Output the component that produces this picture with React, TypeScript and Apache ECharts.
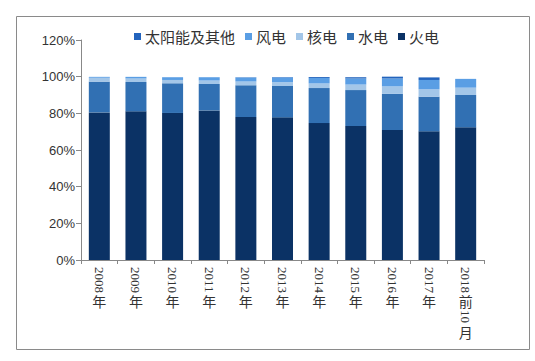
import React, { useEffect, useRef } from "react";
import * as echarts from "echarts";

const categories = ["2008年", "2009年", "2010年", "2011年", "2012年", "2013年", "2014年", "2015年", "2016年", "2017年", "2018前10月"];
const thermal = [80.5, 81.1, 80.2, 81.6, 78.0, 77.8, 74.7, 73.1, 70.9, 70.2, 72.4];
const hydro = [16.8, 16.0, 16.2, 14.4, 17.3, 17.1, 19.1, 19.6, 19.7, 18.9, 17.6];
const nuclear = [2.1, 1.9, 1.8, 1.9, 2.1, 2.1, 2.5, 3.0, 4.1, 4.0, 4.0];
const wind = [0.5, 0.9, 1.5, 1.8, 2.2, 2.6, 3.0, 3.3, 4.3, 5.1, 4.8];
const solar = [0, 0, 0, 0, 0.1, 0.2, 0.5, 0.7, 1.0, 1.4, 0];
const yTicks = [0, 20, 40, 60, 80, 100, 120];

const seriesDefs = [
  { name: "火电", data: thermal, color: "#0b3265" },
  { name: "水电", data: hydro, color: "#3170b3" },
  { name: "核电", data: nuclear, color: "#a3c6e8" },
  { name: "风电", data: wind, color: "#5a9ee4" },
  { name: "太阳能及其他", data: solar, color: "#2364bd" },
];
const legendOrder = ["太阳能及其他", "风电", "核电", "水电", "火电"];

// vertical label layout: digits run sideways, CJK characters stay upright
const segmentsOf = (s: string) => s.match(/(\d+|\D+)/g) || [s];
const labelSegments = [
  { margin: 7, rotate: -90, size: 13 },
  { margin: 34, rotate: 0, size: 14 },
  { margin: 50, rotate: -90, size: 13 },
  { margin: 65, rotate: 0, size: 14 },
];

export default function App() {
  const ref = useRef<HTMLDivElement>(null);
  useEffect(() => {
    if (!ref.current) return;
    const chart = echarts.init(ref.current, null, { renderer: "svg" });
    const xAxes = labelSegments.map((seg, k) => ({
      type: "category",
      data: categories,
      position: "bottom",
      gridIndex: 0,
      axisLine: { show: k === 0, lineStyle: { color: "#888888", width: 1 } },
      axisTick: { show: k === 0, length: 4, lineStyle: { color: "#888888" } },
      axisLabel: {
        rotate: seg.rotate,
        interval: 0,
        margin: seg.margin,
        formatter: (v: string) => segmentsOf(v)[k] || "",
        fontFamily: k % 2 === 0 ? "Liberation Serif" : "Noto Sans CJK SC",
        fontSize: seg.size,
        color: "#333333",
      },
    }));
    chart.setOption({
      animation: false,
      backgroundColor: "#ffffff",
      graphic: [
        {
          type: "rect",
          shape: { x: 16.5, y: 16.5, width: 513, height: 333 },
          style: { fill: "none", stroke: "#8a8a8a", lineWidth: 1 },
          silent: true,
        },
      ],
      legend: {
        data: legendOrder,
        top: 24,
        left: 129,
        icon: "rect",
        itemWidth: 7,
        itemHeight: 7,
        itemGap: 10,
        textStyle: {
          fontFamily: "Noto Sans CJK SC",
          fontSize: 15,
          color: "#333333",
          padding: [0, 0, 0, -1],
        },
      },
      grid: { left: 81, right: 51, top: 40, bottom: 101, containLabel: false },
      xAxis: xAxes,
      yAxis: {
        type: "value",
        min: yTicks[0],
        max: yTicks[yTicks.length - 1],
        interval: 20,
        splitLine: { show: false },
        axisLine: { show: true, lineStyle: { color: "#888888", width: 1 } },
        axisTick: { show: true, length: 5, lineStyle: { color: "#888888" } },
        axisLabel: {
          formatter: "{value}%",
          fontFamily: "Liberation Sans, Arial",
          fontSize: 13,
          color: "#333333",
          margin: 6,
        },
      },
      series: seriesDefs.map((s) => ({
        name: s.name,
        type: "bar",
        stack: "total",
        xAxisIndex: 0,
        data: s.data,
        barWidth: 21,
        itemStyle: { color: s.color },
      })),
    });
    return () => chart.dispose();
  }, []);
  return (
    <div
      ref={ref}
      style={{ position: "fixed", left: 0, top: 0, width: 535, height: 361 }}
    />
  );
}
